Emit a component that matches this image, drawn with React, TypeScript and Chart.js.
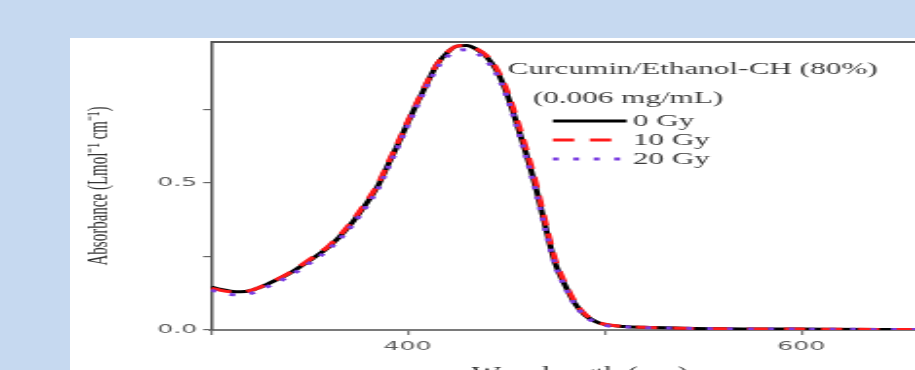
import { useEffect, useRef } from "react";
import { Chart, registerables } from "chart.js";

Chart.register(...registerables);

// ---- data ----
const wavelengths = [300, 305, 310, 315, 320, 330, 340, 350, 360, 370, 380, 385, 390, 395, 400, 405, 410, 415, 420, 425, 430, 435, 440, 445, 450, 455, 460, 465, 470, 475, 480, 485, 490, 495, 500, 510, 520, 540, 560, 600, 640, 675];
const abs0Gy = [0.146, 0.138, 0.132, 0.130, 0.134, 0.160, 0.193, 0.236, 0.283, 0.351, 0.440, 0.492, 0.562, 0.632, 0.705, 0.775, 0.842, 0.904, 0.943, 0.966, 0.968, 0.955, 0.930, 0.885, 0.812, 0.712, 0.605, 0.488, 0.352, 0.226, 0.152, 0.090, 0.051, 0.030, 0.019, 0.012, 0.009, 0.006, 0.004, 0.003, 0.002, 0.002];
const abs10Gy = [0.142, 0.135, 0.130, 0.129, 0.134, 0.161, 0.195, 0.239, 0.287, 0.356, 0.446, 0.498, 0.568, 0.638, 0.710, 0.779, 0.846, 0.906, 0.944, 0.966, 0.968, 0.957, 0.934, 0.892, 0.823, 0.728, 0.622, 0.505, 0.368, 0.240, 0.160, 0.096, 0.055, 0.032, 0.020, 0.012, 0.009, 0.006, 0.004, 0.003, 0.002, 0.002];
const abs20Gy = [0.136, 0.127, 0.121, 0.119, 0.124, 0.151, 0.184, 0.227, 0.275, 0.342, 0.430, 0.481, 0.551, 0.622, 0.695, 0.765, 0.832, 0.892, 0.930, 0.950, 0.954, 0.942, 0.918, 0.873, 0.800, 0.700, 0.592, 0.474, 0.340, 0.220, 0.146, 0.086, 0.048, 0.027, 0.016, 0.011, 0.008, 0.006, 0.004, 0.003, 0.002, 0.002];
const seriesNames = ["0 Gy", "10 Gy", "20 Gy"];
const xTickValues = [300, 400, 500, 600];
const xLabelled = [400, 600];
const yTickValues = [0, 0.25, 0.5, 0.75];
const yLabelled = [0, 0.5];
const xTitle = "Wavelength (nm)";
const yTitle = "Absorbance (Lmol\u207B\u00B9 cm\u207B\u00B9)";
const legendTitle = "Curcumin/Ethanol-CH (80%)";
const legendSubtitle = "(0.006 mg/mL)";

// ---- layout (internal canvas units, stretched horizontally on screen) ----
const STRETCH = 1.95;
const CW = 492;
const CH = 360;

const colors = ["#000000", "#ff1a1a", "#7a3ce0"];
const dashes: number[][] = [[], [11, 8], [3, 7.5]];

const frameTopPlugin = {
  id: "frameTop",
  beforeDatasetsDraw(chart: any) {
    const { ctx, chartArea } = chart;
    ctx.save();
    ctx.strokeStyle = "#555";
    ctx.lineWidth = 2;
    ctx.beginPath();
    ctx.moveTo(chartArea.left, chartArea.top);
    ctx.lineTo(chartArea.right + 60, chartArea.top);
    ctx.stroke();
    ctx.restore();
  },
};

const legendPlugin = {
  id: "curveLegend",
  afterDraw(chart: any) {
    const { ctx } = chart;
    ctx.save();
    ctx.font = "16px 'Liberation Serif'";
    ctx.fillStyle = "#3a3a3a";
    ctx.textBaseline = "alphabetic";
    ctx.textAlign = "left";
    ctx.fillText(legendTitle, 224.6, 36);
    ctx.fillText(legendSubtitle, 237.4, 65);
    const ys = [83, 102, 121];
    seriesNames.forEach((name, i) => {
      ctx.save();
      ctx.strokeStyle = colors[i];
      ctx.lineWidth = 2.8;
      ctx.setLineDash(dashes[i]);
      ctx.beginPath();
      ctx.moveTo(247.7, ys[i]);
      ctx.lineTo(285.6, ys[i]);
      ctx.stroke();
      ctx.restore();
      ctx.fillText(name, 288.7, ys[i] + 5);
    });
    ctx.restore();
  },
};

export default function App() {
  const ref = useRef<HTMLCanvasElement | null>(null);

  useEffect(() => {
    const canvas = ref.current;
    if (!canvas) return;
    const series = [abs0Gy, abs10Gy, abs20Gy];
    const chart = new Chart(canvas, {
      type: "line",
      data: {
        datasets: series.map((vals, i) => ({
          label: seriesNames[i],
          data: wavelengths.map((w, k) => ({ x: w, y: vals[k] })),
          borderColor: colors[i],
          borderWidth: 3,
          borderDash: dashes[i],
          pointRadius: 0,
          fill: false,
          cubicInterpolationMode: "monotone" as const,
          order: 3 - i,
        })),
      },
      options: {
        animation: false,
        responsive: false,
        devicePixelRatio: 1,
        layout: { padding: { left: 4, top: 4, right: 41.2, bottom: 0 } },
        plugins: { legend: { display: false }, tooltip: { enabled: false } },
        scales: {
          x: {
            type: "linear",
            min: 300,
            max: 675,
            afterBuildTicks: (s: any) => {
              s.ticks = xTickValues.map((v) => ({ value: v }));
            },
            afterFit: (s: any) => {
              s.height = 68;
              s.paddingLeft = 0;
              s.paddingRight = 0;
            },
            grid: { drawOnChartArea: false, drawTicks: true, tickLength: 5, color: "#777", lineWidth: 1.2 },
            border: { display: true, color: "#7a7a7a", width: 2 },
            ticks: {
              autoSkip: false,
              maxRotation: 0,
              padding: 4,
              color: "#5c5c5c",
              font: { family: "'DejaVu Sans'", size: 13 },
              callback: (v: any) => (xLabelled.includes(Number(v)) ? String(v) : ""),
            },
            title: {
              display: true,
              text: xTitle,
              color: "#333",
              font: { family: "'Liberation Serif'", size: 16 },
              padding: { top: 0, bottom: 15 },
            },
          },
          y: {
            type: "linear",
            min: 0,
            max: 0.98,
            afterBuildTicks: (s: any) => {
              s.ticks = yTickValues.map((v) => ({ value: v }));
            },
            afterFit: (s: any) => {
              s.width = 68.3;
              s.paddingTop = 0;
              s.paddingBottom = 0;
            },
            grid: { drawOnChartArea: false, drawTicks: true, tickLength: 4, color: "#666", lineWidth: 1.2 },
            border: { display: true, color: "#555", width: 1.5 },
            ticks: {
              autoSkip: false,
              padding: 3,
              color: "#5c5c5c",
              font: { family: "'DejaVu Sans'", size: 13 },
              callback: (v: any) => (yLabelled.includes(Number(v)) ? Number(v).toFixed(1) : ""),
            },
            title: {
              display: true,
              text: yTitle,
              color: "#333",
              font: { family: "'Liberation Serif'", size: 15 },
              padding: { top: 2.4, bottom: 0 },
            },
          },
        },
      },
      plugins: [frameTopPlugin, legendPlugin],
    });
    return () => chart.destroy();
  }, []);

  return (
    <div style={{ position: "fixed", left: 0, top: 0, right: 0, bottom: 0, background: "#c6d9f0", overflow: "hidden" }}>
      <div style={{ position: "absolute", left: 70, top: 38, width: 2000, height: 1000, background: "#ffffff" }} />
      <canvas
        ref={ref}
        width={CW}
        height={CH}
        style={{ position: "absolute", left: 70, top: 38, width: `${CW * STRETCH}px`, height: `${CH}px` }}
      />
    </div>
  );
}
